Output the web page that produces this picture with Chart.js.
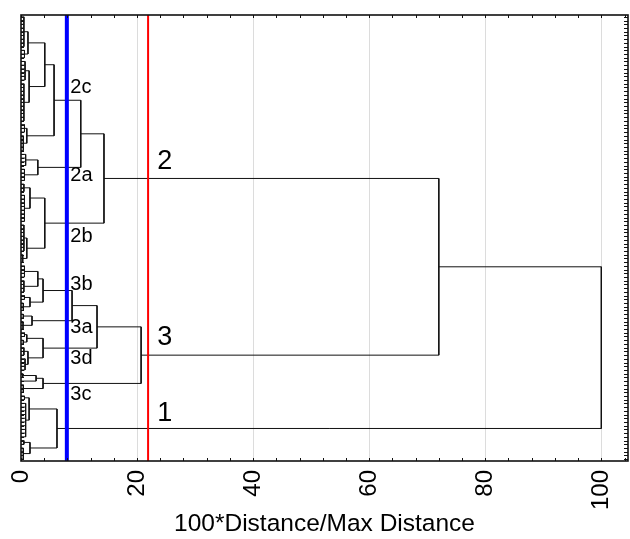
<!DOCTYPE html>
<html><head><meta charset="utf-8">
<script src="https://cdn.jsdelivr.net/npm/chart.js@4"></script>
<style>html,body{margin:0;padding:0;background:#fff}</style>
</head><body>
<canvas id="c" width="630" height="539"></canvas>
<script>
// ---- data ----
const leafCount = 120;
const xTickValues = [0,4,8,12,16,20,24,28,32,36,40,44,48,52,56,60,64,68,72,76,80,84,88,92,96,100,104];
const xLabelValues = [0,20,40,60,80,100];

// flat leaf groups (distance, first leaf position, last leaf position)
const groupDist  = [0.5,0.6,0.7,0.5,0.6,0.4,0.8,0.6,0.5,0.6,0.5,0.3,0.6,0.5,0.6,0.4,0.4,0.35,0.6,0.4,0.5,0.7,0.3,0.5,0.4,0.6,0.8,0.5,0.4];
const groupFirst = [0.5,9.5,12.5,18.5,29.5,32.5,37.5,41.5,45.5,48.5,56.5,64.5,67.5,71.5,75.5,77.5,80.5,82.5,85.5,87.5,89.5,92.5,96.5,98.5,99.5,102.5,104.5,114.5,116.5];
const groupLast  = [8.5,11.5,17.5,28.5,31.5,36.5,40.5,44.5,47.5,55.5,63.5,66.5,70.5,74.5,76.5,79.5,81.5,84.5,86.5,88.5,91.5,95.5,97.5,98.5,101.5,103.5,113.5,115.5,119.5];

// merges: height, upper child position, lower child position, upper child height, lower child height
const mergeDist       = [1.2,1.4,4.1,1.0,5.7,2.9,10.3,1.55,1.0,4.1,14.3,2.9,1.55,3.8,1.9,8.8,1.0,1.2,3.8,13.1,2.6,3.8,20.7,72,1.4,1.55,6.2,100];
const mergeTop        = [4.5,15.0,7.5,30.5,13.38,39.0,22.94,46.5,60.0,49.25,31.97,69.0,76.0,71.0,81.0,74.13,86.0,90.5,87.0,78.19,97.0,97.75,83.91,43.98,103.0,115.0,106.0,67.75];
const mergeBottom     = [10.5,23.5,19.25,34.5,32.5,43.0,41.0,52.0,65.5,62.75,56.0,73.0,78.5,77.25,83.5,82.25,88.0,94.0,92.25,89.63,98.5,100.5,99.13,91.52,109.0,118.0,116.5,111.25];
const mergeTopFrom    = [0.5,0.7,1.2,0.6,4.1,0.8,5.7,0.5,0.5,1.55,10.3,0.6,0.6,2.9,0.4,3.8,0.6,0.5,1.0,8.8,0.3,2.6,13.1,14.3,0.6,0.5,1.4,72];
const mergeBottomFrom = [0.6,0.5,1.4,0.4,1.0,0.6,2.9,0.6,0.3,1.0,4.1,0.5,0.4,1.55,0.35,1.9,0.4,0.7,1.2,3.8,0.5,0.4,3.8,20.7,0.8,0.4,1.55,6.2];

// cut levels
const cutBlue = 7.9;
const cutRed = 21.9;

// cluster labels (text, distance, leaf position)
const subNames = ['2c','2a','2b','3b','3a','3d','3c'];
const subX = [8.5,8.5,8.5,8.5,8.5,8.5,8.5];
const subY = [19.6,43.3,59.7,72.4,84.2,92.3,102.0];
const mainNames = ['2','3','1'];
const mainX = [23.5,23.5,23.5];
const mainY = [39.5,86.9,107.1];

// ---- build tree polyline ----
const leafPositions = Array.from({length: leafCount}, (_, i) => i + 0.5);
const treePts = [];
const gap = {x: null, y: null};
groupDist.forEach((d, g) => {
  leafPositions.filter(p => p >= groupFirst[g] && p <= groupLast[g]).forEach(p => {
    treePts.push({x: 0, y: p}, {x: d, y: p}, gap);
  });
  if (groupLast[g] > groupFirst[g]) treePts.push({x: d, y: groupFirst[g]}, {x: d, y: groupLast[g]}, gap);
});
mergeDist.forEach((d, i) => {
  treePts.push({x: mergeTopFrom[i], y: mergeTop[i]}, {x: d, y: mergeTop[i]},
               {x: d, y: mergeBottom[i]}, {x: mergeBottomFrom[i], y: mergeBottom[i]}, gap);
});

const framePlugin = {
  id: 'frame',
  afterDatasetsDraw(chart) {
    const {ctx, chartArea: a, scales: {x, y}} = chart;
    ctx.save();
    ctx.strokeStyle = '#111';
    ctx.lineWidth = 1;
    ctx.beginPath();
    xTickValues.forEach(v => {
      const px = Math.round(x.getPixelForValue(v)) + 0.5;
      ctx.moveTo(px, a.bottom); ctx.lineTo(px, a.bottom - 3);
      ctx.moveTo(px, a.top); ctx.lineTo(px, a.top + 3);
    });
    leafPositions.forEach(p => {
      const py = Math.round(y.getPixelForValue(p)) + 0.5;
      ctx.moveTo(a.left, py); ctx.lineTo(a.left + 3, py);
      ctx.moveTo(a.right, py); ctx.lineTo(a.right - 4, py);
    });
    ctx.stroke();
    ctx.lineWidth = 1.6;
    ctx.strokeRect(a.left, a.top, a.right - a.left, a.bottom - a.top);
    ctx.fillStyle = '#000';
    ctx.textBaseline = 'middle';
    ctx.textAlign = 'left';
    ctx.font = '20px "Liberation Sans", Arial, sans-serif';
    subNames.forEach((t, i) => ctx.fillText(t, x.getPixelForValue(subX[i]), y.getPixelForValue(subY[i])));
    ctx.font = '27px "Liberation Sans", Arial, sans-serif';
    mainNames.forEach((t, i) => ctx.fillText(t, x.getPixelForValue(mainX[i]), y.getPixelForValue(mainY[i])));
    ctx.restore();
  }
};

new Chart(document.getElementById('c'), {
  type: 'scatter',
  data: {
    datasets: [
      {data: [{x: cutBlue, y: 0}, {x: cutBlue, y: leafCount}], showLine: true, borderColor: '#0000ff', borderWidth: 4, pointRadius: 0},
      {data: [{x: cutRed, y: 0}, {x: cutRed, y: leafCount}], showLine: true, borderColor: '#ff0000', borderWidth: 2, pointRadius: 0},
      {data: treePts, showLine: true, spanGaps: false, borderColor: '#111111', borderWidth: 1, pointRadius: 0}
    ]
  },
  options: {
    responsive: false,
    animation: false,
    layout: {padding: {left: 21, top: 15, right: 2, bottom: 0}},
    plugins: {legend: {display: false}, tooltip: {enabled: false}},
    scales: {
      x: {
        type: 'linear', min: 0, max: 104.6, position: 'bottom',
        afterBuildTicks: s => { s.ticks = xTickValues.map(v => ({value: v})); },
        afterFit: s => { s.height = 78; s.paddingLeft = 0; s.paddingRight = 0; },
        grid: {
          drawTicks: false,
          color: c => (c.tick && c.tick.value % 20 === 0 && c.tick.value > 0) ? '#dcdcdc' : 'rgba(0,0,0,0)',
          lineWidth: 1
        },
        border: {display: false},
        ticks: {
          autoSkip: false, maxRotation: 90, minRotation: 90, padding: 9, color: '#000',
          font: {family: '"Liberation Sans", Arial, sans-serif', size: 24},
          callback: v => xLabelValues.includes(v) ? String(v) : ''
        },
        title: {
          display: true, text: '100*Distance/Max Distance', color: '#000',
          font: {family: '"Liberation Sans", Arial, sans-serif', size: 24.5},
          padding: {top: 0, bottom: 0}
        }
      },
      y: {type: 'linear', min: 0, max: leafCount, reverse: true, display: false}
    }
  },
  plugins: [framePlugin]
});
</script>
</body></html>
